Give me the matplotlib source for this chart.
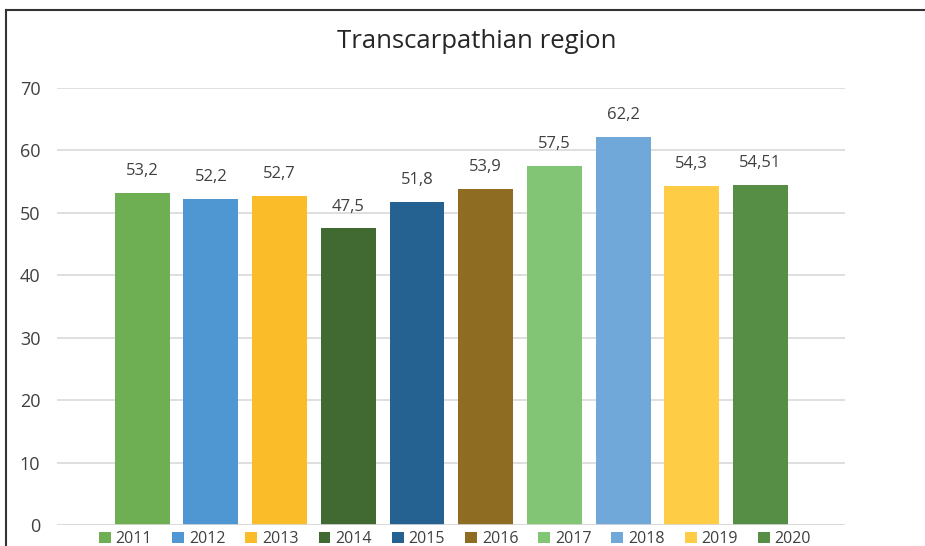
import matplotlib
matplotlib.use("Agg")
import matplotlib.pyplot as plt
from matplotlib.lines import Line2D
from matplotlib.patches import Patch

years = ["2011", "2012", "2013", "2014", "2015", "2016", "2017", "2018", "2019", "2020"]
values = [53.2, 52.2, 52.7, 47.5, 51.8, 53.9, 57.5, 62.2, 54.3, 54.51]
labels = ["53,2", "52,2", "52,7", "47,5", "51,8", "53,9", "57,5", "62,2", "54,3", "54,51"]
colors = ["#6FAF53", "#4F97D3", "#FBBC2A", "#406A31", "#256292", "#8E6C22",
          "#82C574", "#6FA8D9", "#FFCC45", "#558E44"]
yticks = [0, 10, 20, 30, 40, 50, 60, 70]

plt.rcParams['font.family'] = ['Open Sans', 'DejaVu Sans']

W, H = 925, 546
fig = plt.figure(figsize=(W / 100, H / 100), dpi=100)
ax = fig.add_axes([57 / W, 1 - 525 / H, (845 - 57) / W, (525 - 88) / H])

x = list(range(len(years)))
bars = ax.bar(x, values, width=0.8, color=colors, zorder=3)
for xi, v, lab in zip(x, values, labels):
    ax.text(xi, v + 2.2, lab, ha="center", va="bottom", fontsize=12, color="#404040")

ax.set_ylim(0, 70)
ax.set_xlim(-1.24, 10.23)
ax.set_yticks(yticks)
ax.set_yticklabels([str(t) for t in yticks], fontsize=13, color="#404040")
ax.tick_params(axis="y", length=0, pad=12)
ax.set_xticks([])
ax.grid(axis="y", color="#D9D9D9", linewidth=1.2, zorder=0)
for s in ax.spines.values():
    s.set_visible(False)
ax.axhline(0, color="#D9D9D9", linewidth=1.2, zorder=4)

fig.text(477 / W, 1 - 42 / H, "Transcarpathian region", ha="center", va="center",
         fontsize=18.5, color="#262626")

handles = [Patch(facecolor=c, edgecolor="none") for c in colors]
fig.legend(handles, years, loc="center", bbox_to_anchor=(455 / W, 1 - 539 / H),
           ncol=10, frameon=False, fontsize=11.5, handlelength=0.75, handleheight=0.75,
           handletextpad=0.3, columnspacing=1.25, labelcolor="#404040")

fig.add_artist(Line2D([6 / W, 6 / W], [0, 1 - 10 / H], color="#333333", linewidth=1.5,
                      transform=fig.transFigure))
fig.add_artist(Line2D([6 / W, 1], [1 - 10 / H, 1 - 10 / H], color="#333333", linewidth=1.5,
                      transform=fig.transFigure))

fig.savefig("out.png", dpi=100)
